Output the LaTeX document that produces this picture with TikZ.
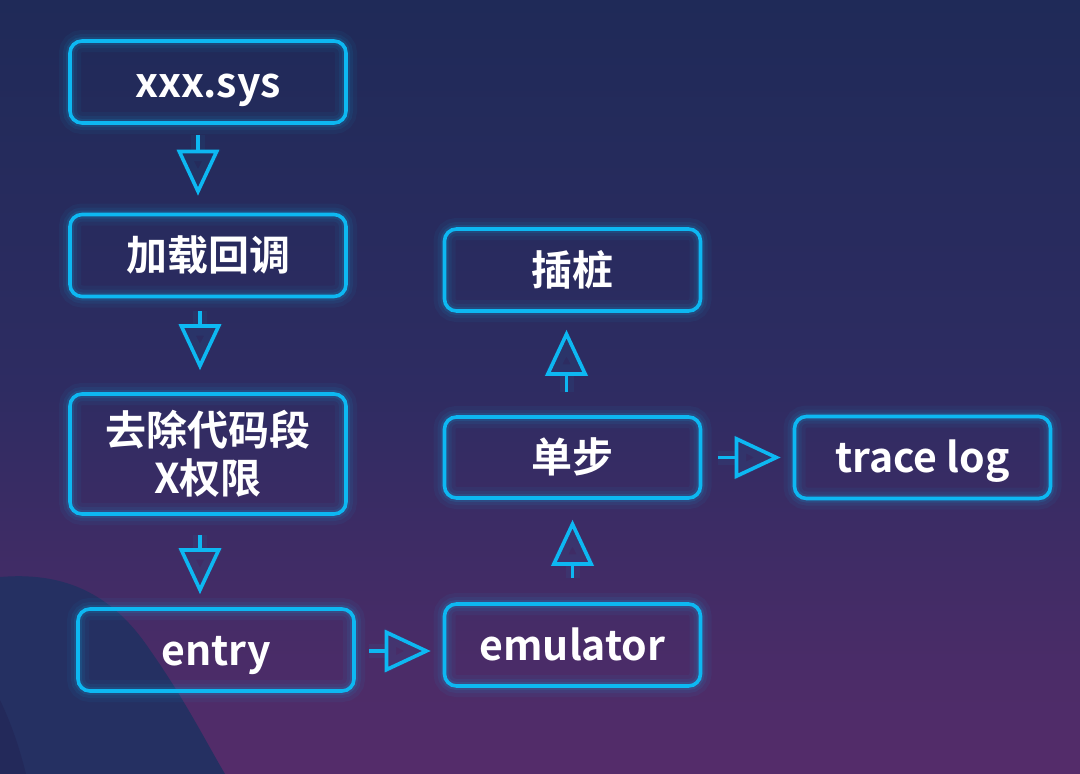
\documentclass[tikz,border=0pt]{standalone}
\usepackage{fontspec}
\setmainfont{Noto Sans CJK SC}[BoldFont={Noto Sans CJK SC Bold}]
\usetikzlibrary{arrows.meta}
\definecolor{neon}{HTML}{0DB8F2}
\definecolor{bgtop}{HTML}{1F2A58}
\definecolor{bgmid}{HTML}{2E2C62}
\definecolor{bgbot}{HTML}{552C6A}
\definecolor{wave}{HTML}{253062}
\definecolor{wavedark}{HTML}{23295A}
\tikzset{
  x=1pt, y=-1pt,
  glowbox/.style={draw=neon, line width=3.6pt, rounded corners=12pt,
    minimum height=82pt, text=white, align=center,
    font=\bfseries\fontsize{41}{48}\selectfont,
    preaction={draw=neon, line width=22pt, draw opacity=0.05},
    preaction={draw=neon, line width=14pt, draw opacity=0.07},
    preaction={draw=neon, line width=8pt, draw opacity=0.12}},
  oneline/.style={text height=36pt, text depth=6pt},
  wideL/.style={glowbox, minimum width=276pt},
  wideR/.style={glowbox, minimum width=256pt},
  flow/.style={draw=neon, line width=3.6pt,
    -{Triangle[open, length=46pt, width=42pt]},
    preaction={draw=neon, line width=14pt, draw opacity=0.06, -{Triangle[open, length=46pt, width=42pt]}}}
}
\begin{document}
\begin{tikzpicture}
\useasboundingbox (0,0) rectangle (1080,774);
\shade[top color=bgtop, bottom color=bgbot, middle color=bgmid] (0,0) rectangle (1080,774);
\fill[wave] (0,577) .. controls (60,572) and (110,590) .. (150,650)
  .. controls (185,700) and (205,740) .. (225,774) -- (0,774) -- cycle;
\fill[wavedark] (0,700) .. controls (12,725) and (20,750) .. (26,774) -- (0,774) -- cycle;

\node[wideL, oneline] (sys) at (208,82) {xxx.sys};
\node[wideL, oneline] (cb) at (208,255.5) {加载回调};
\node[wideL, minimum height=120pt] (rx) at (208,454) {去除代码段\\X权限};
\node[wideL, oneline] (entry) at (216,650) {entry};
\node[wideR, oneline] (emu) at (572.5,645) {emulator};
\node[wideR, oneline, minimum height=81pt] (step1) at (572.5,457.5) {单步};
\node[wideR, oneline] (stub) at (572.5,270) {插桩};
\node[wideR, oneline] (trace) at (922.5,457.5) {trace log};

\draw[flow, shorten <=10pt, shorten >=17pt] ([xshift=-10pt]sys.south) -- ([xshift=-10pt]cb.north);
\draw[flow, shorten <=13pt, shorten >=22pt] ([xshift=-8pt]cb.south) -- ([xshift=-8pt]rx.north);
\draw[flow, shorten <=19pt, shorten >=13pt] ([xshift=-8pt]rx.south) -- ([xshift=-16pt]entry.north);
\draw[flow, shorten <=13pt, shorten >=12pt] ([yshift=-1pt]entry.east) -- ([yshift=-1pt]entry.east -| emu.west);
\draw[flow, shorten <=24pt, shorten >=20pt] (emu.north) -- (step1.south);
\draw[flow, shorten <=23pt, shorten >=17pt] ([xshift=-6pt]step1.north) -- ([xshift=-6pt]stub.south);
\draw[flow, shorten <=16pt, shorten >=12pt] (step1.east) -- (trace.west);
\end{tikzpicture}
\end{document}
